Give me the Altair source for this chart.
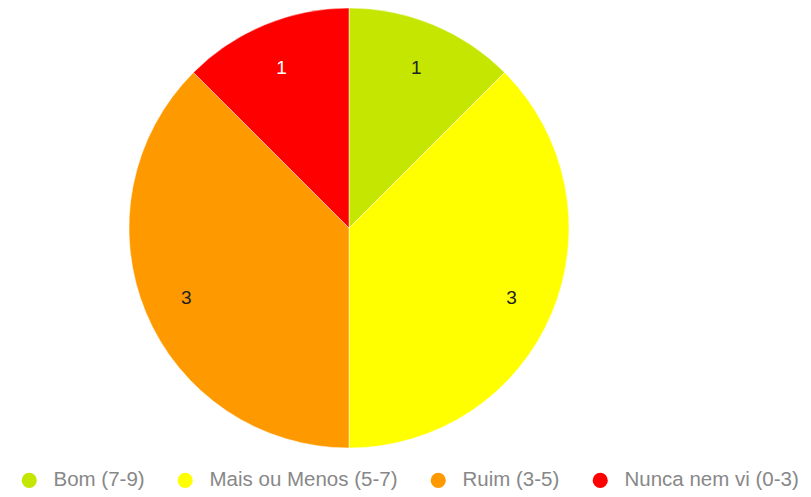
import altair as alt
import pandas as pd

categories = ["Bom (7-9)", "Mais ou Menos (5-7)", "Ruim (3-5)", "Nunca nem vi (0-3)"]
values = [1, 3, 3, 1]
colors = ["#c5e600", "#ffff00", "#ff9900", "#ff0000"]
label_colors = ["#222222", "#222222", "#222222", "#ffffff"]

df = pd.DataFrame({
    "cat": categories,
    "value": values,
    "order": list(range(len(categories))),
    "lc": label_colors,
})

base = alt.Chart(df).encode(
    theta=alt.Theta("value:Q", stack=True),
    order=alt.Order("order:Q"),
)

arcs = base.mark_arc(outerRadius=220, stroke="white", strokeWidth=0.8, strokeOpacity=0.6).encode(
    x=alt.value(341),
    y=alt.value(220),
    color=alt.Color(
        "cat:N",
        scale=alt.Scale(domain=categories, range=colors),
        sort=categories,
        legend=alt.Legend(
            title=None,
            orient="none",
            direction="horizontal",
            legendX=11,
            legendY=462,
            symbolType="circle",
            symbolSize=230,
            symbolStrokeWidth=0,
            labelFont="Liberation Sans",
            labelFontSize=20.5,
            labelColor="#888888",
            labelOffset=14,
            columnPadding=30,
            labelLimit=300,
        ),
    ),
)

labels = base.mark_text(radius=176, font="Liberation Sans", fontSize=19, dy=3).encode(
    x=alt.value(341),
    y=alt.value(220),
    text=alt.Text("value:Q"),
    color=alt.Color("lc:N", scale=None),
)

chart = (arcs + labels).properties(
    width=795, height=489, padding=0, autosize=alt.AutoSizeParams(type="none")
).configure_view(stroke=None)

chart.save("out.html", embed_options={"renderer": "svg", "actions": False})
